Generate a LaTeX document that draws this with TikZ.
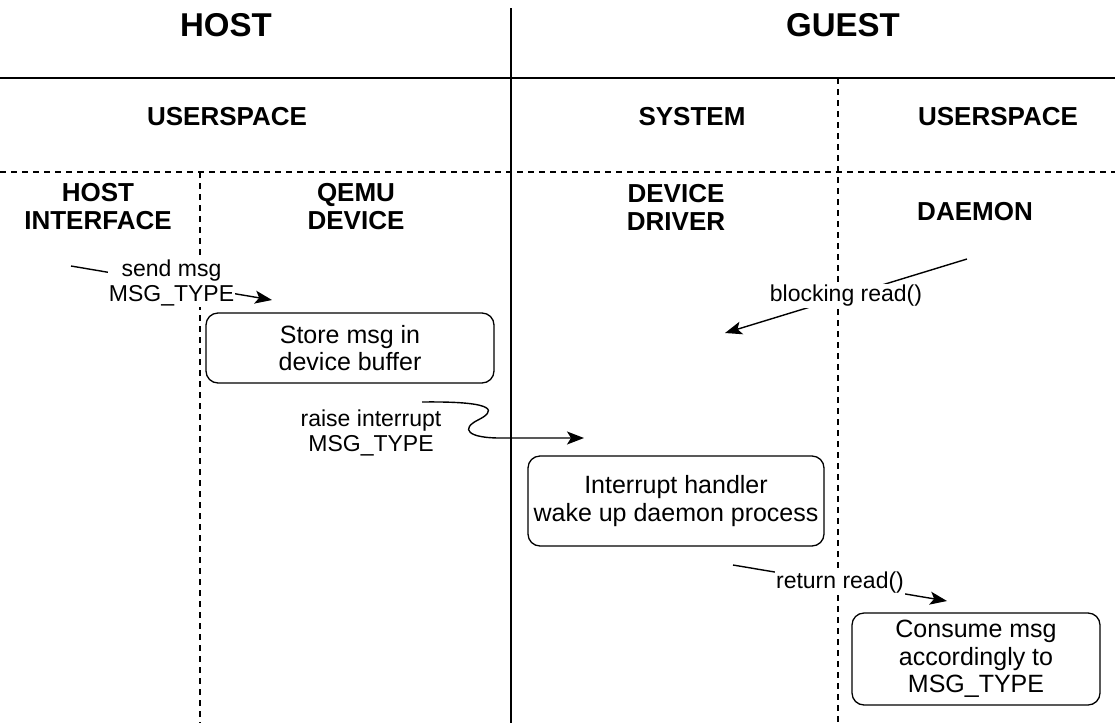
\documentclass[tikz,border=0pt]{standalone}
\usepackage{fontspec}
\setmainfont{Liberation Sans}
\usetikzlibrary{arrows.meta}
\begin{document}
\begin{tikzpicture}[x=1pt,y=-1pt,
  sect/.style={font=\bfseries\fontsize{33}{38}\selectfont},
  hdr/.style={font=\bfseries\fontsize{26}{28}\selectfont, align=center},
  box/.style={draw, rounded corners=12pt, line width=1.3pt, align=center, font=\fontsize{25}{27.5}\selectfont, inner sep=0pt},
  lbl/.style={fill=white, align=center, font=\fontsize{23}{25}\selectfont, inner sep=1pt},
  arr/.style={line width=1.4pt, -{Stealth[length=17pt,width=13pt,inset=4pt]}},
  solidline/.style={line width=1.4pt},
  dashline/.style={line width=1.3pt, dash pattern=on 6pt off 5pt}]
\useasboundingbox (0,0) rectangle (1115,723);
% frame lines
\draw[solidline] (511,8) -- (511,723);
\draw[solidline] (0,78) -- (1115,78);
\draw[dashline] (0,172) -- (1115,172);
\draw[dashline] (200,172) -- (200,723);
\draw[dashline] (838,78) -- (838,723);
% headings
\node[sect] (host) at (226,25) {HOST};
\node[sect] (guest) at (843,25) {GUEST};
\node[hdr] (hus) at (227,117) {USERSPACE};
\node[hdr] (gsys) at (692,117) {SYSTEM};
\node[hdr] (gus) at (998,117) {USERSPACE};
\node[hdr] (hif) at (98,207) {HOST\\INTERFACE};
\node[hdr] (qemu) at (356,207) {QEMU\\DEVICE};
\node[hdr] (drv) at (676,207) {DEVICE\\DRIVER};
\node[hdr] (dmn) at (975,212) {DAEMON};
% boxes
\node[box, minimum width=288pt, minimum height=70pt] (b1) at (350,348) {Store msg in\\device buffer};
\node[box, minimum width=296pt, minimum height=90pt] (b2) at (676,501) {Interrupt handler\\wake up daemon process};
\node[box, minimum width=248pt, minimum height=92pt] (b3) at (976,659) {Consume msg\\accordingly to\\MSG\_TYPE};
% connectors
\coordinate (s1) at (71,266);
\coordinate (e1) at (272,300);
\coordinate (s2) at (422,402);
\coordinate (e2) at (584,438);
\coordinate (s3) at (967,259);
\coordinate (e3) at (725,333);
\coordinate (s4) at (733,565);
\coordinate (e4) at (947,601);
\draw[arr] (s1) -- node[lbl] (l1) {send msg\\MSG\_TYPE} (e1);
\draw[arr] (s3) -- node[lbl] (l3) {blocking read()} (e3);
\draw[arr] (s4) -- node[lbl] (l4) {return read()} (e4);
\draw[arr] (s2) .. controls (502,401) and (494,412) .. (478,420) .. controls (460,429) and (468,438) .. (500,438) -- (e2);
\node[align=center, font=\fontsize{23}{25}\selectfont] (l2) at (371,433) {raise interrupt\\MSG\_TYPE};
\end{tikzpicture}
\end{document}
